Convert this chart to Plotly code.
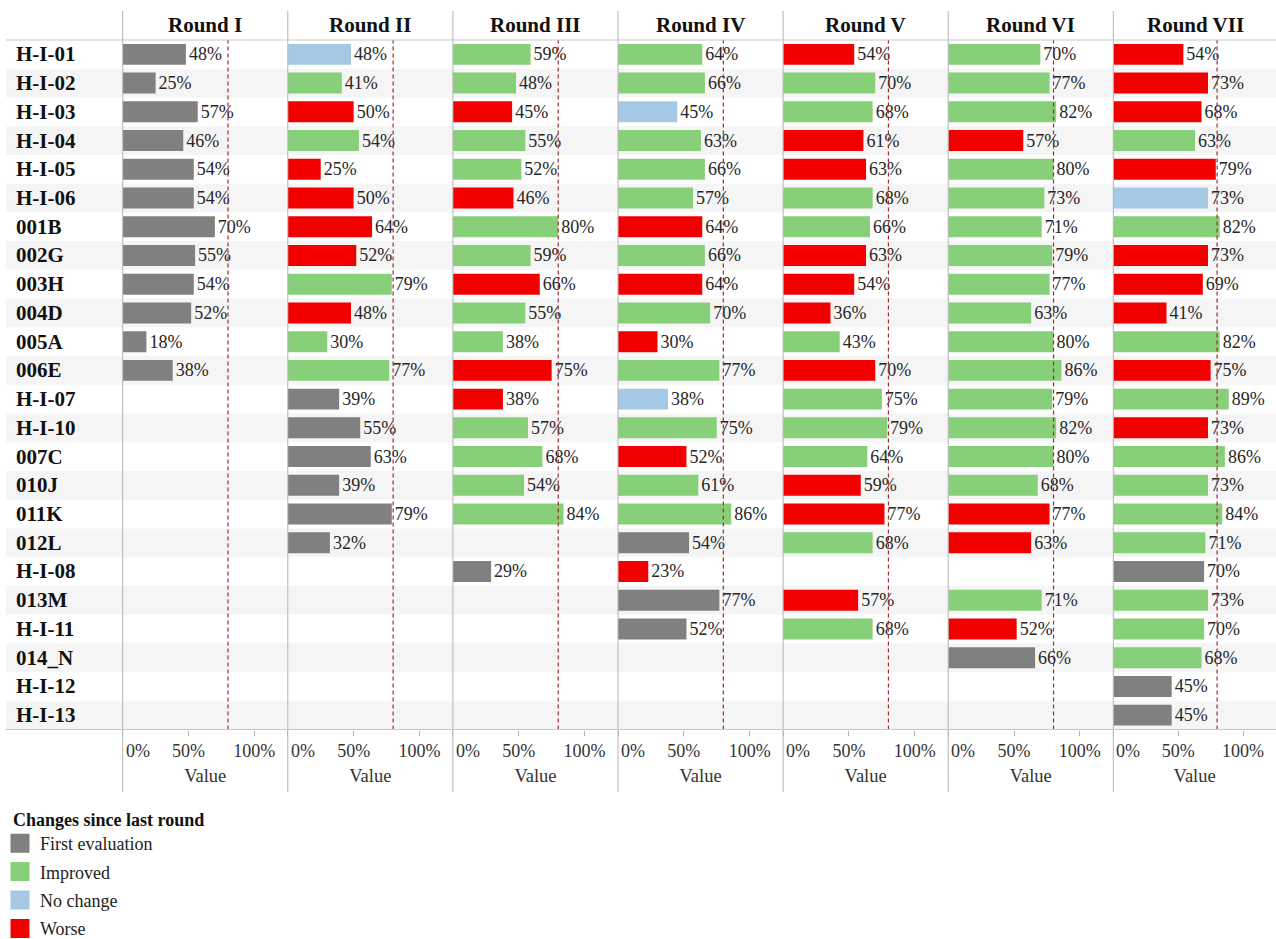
import plotly.graph_objects as go
from plotly.subplots import make_subplots

# ---------------- data ----------------
rows = ["H-I-01", "H-I-02", "H-I-03", "H-I-04", "H-I-05", "H-I-06", "001B", "002G",
        "003H", "004D", "005A", "006E", "H-I-07", "H-I-10", "007C", "010J", "011K",
        "012L", "H-I-08", "013M", "H-I-11", "014_N", "H-I-12", "H-I-13"]

rounds = ["Round I", "Round II", "Round III", "Round IV", "Round V", "Round VI", "Round VII"]

_ = None
r1_values = [48, 25, 57, 46, 54, 54, 70, 55, 54, 52, 18, 38, _, _, _, _, _, _, _, _, _, _, _, _]
r1_status = ["F", "F", "F", "F", "F", "F", "F", "F", "F", "F", "F", "F", _, _, _, _, _, _, _, _, _, _, _, _]

r2_values = [48, 41, 50, 54, 25, 50, 64, 52, 79, 48, 30, 77, 39, 55, 63, 39, 79, 32, _, _, _, _, _, _]
r2_status = ["N", "I", "W", "I", "W", "W", "W", "W", "I", "W", "I", "I", "F", "F", "F", "F", "F", "F", _, _, _, _, _, _]

r3_values = [59, 48, 45, 55, 52, 46, 80, 59, 66, 55, 38, 75, 38, 57, 68, 54, 84, _, 29, _, _, _, _, _]
r3_status = ["I", "I", "W", "I", "I", "W", "I", "I", "W", "I", "I", "W", "W", "I", "I", "I", "I", _, "F", _, _, _, _, _]

r4_values = [64, 66, 45, 63, 66, 57, 64, 66, 64, 70, 30, 77, 38, 75, 52, 61, 86, 54, 23, 77, 52, _, _, _]
r4_status = ["I", "I", "N", "I", "I", "I", "W", "I", "W", "I", "W", "I", "N", "I", "W", "I", "I", "F", "W", "F", "F", _, _, _]

r5_values = [54, 70, 68, 61, 63, 68, 66, 63, 54, 36, 43, 70, 75, 79, 64, 59, 77, 68, _, 57, 68, _, _, _]
r5_status = ["W", "I", "I", "W", "W", "I", "I", "W", "W", "W", "I", "W", "I", "I", "I", "W", "W", "I", _, "W", "I", _, _, _]

r6_values = [70, 77, 82, 57, 80, 73, 71, 79, 77, 63, 80, 86, 79, 82, 80, 68, 77, 63, _, 71, 52, 66, _, _]
r6_status = ["I", "I", "I", "W", "I", "I", "I", "I", "I", "I", "I", "I", "I", "I", "I", "I", "W", "W", _, "I", "W", "F", _, _]

r7_values = [54, 73, 68, 63, 79, 73, 82, 73, 69, 41, 82, 75, 89, 73, 86, 73, 84, 71, 70, 73, 70, 68, 45, 45]
r7_status = ["W", "W", "W", "I", "W", "N", "I", "W", "W", "W", "I", "W", "I", "W", "I", "I", "I", "I", "F", "I", "I", "I", "F", "F"]

round_values = [r1_values, r2_values, r3_values, r4_values, r5_values, r6_values, r7_values]
round_status = [r1_status, r2_status, r3_status, r4_status, r5_status, r6_status, r7_status]

status_codes = ["F", "I", "N", "W"]
status_names = ["First evaluation", "Improved", "No change", "Worse"]
legend_title = "Changes since last round"
tick_values = [0, 50, 100]
tick_labels = ["0%", "50%", "100%"]
target = 80

# ---------------- style ----------------
colors = {"F": "#808080", "I": "#87cf79", "N": "#a5c9e5", "W": "#f20000"}
FONT = "Liberation Serif"
W, H = 1276, 939
panel_left0, panel_w = 122.7, 165.1
plot_top_px, plot_bot_px = 40, 729.5
ydom = [1 - plot_bot_px / H, 1 - plot_top_px / H]
xmax = 125.4

fig = make_subplots(rows=1, cols=7, shared_yaxes=True, horizontal_spacing=0)

for code, name in zip(status_codes, status_names):
    for i in range(7):
        xs = [v for v, s in zip(round_values[i], round_status[i]) if s == code]
        ys = [r for r, s in zip(rows, round_status[i]) if s == code]
        fig.add_trace(go.Bar(
            x=xs, y=ys, orientation="h", name=name, showlegend=False,
            marker=dict(color=colors[code], line=dict(width=0)),
            texttemplate="%{x:.0f}%", textposition="outside", cliponaxis=False,
            constraintext="none",
            textfont=dict(family=FONT, size=18, color="#262626"),
            hoverinfo="skip",
        ), row=1, col=i + 1)

# legend entries (square swatches)
for code, name in zip(status_codes, status_names):
    fig.add_trace(go.Scatter(
        x=[None], y=[None], mode="markers", name=name, legendgroup=code,
        marker=dict(symbol="square", size=16, color=colors[code],
                    line=dict(color=colors[code], width=3)),
        hoverinfo="skip",
    ), row=1, col=1)

shapes = []
annotations = []

# alternating row bands
for k in range(len(rows)):
    if k % 2 == 1:
        shapes.append(dict(type="rect", xref="paper", yref="y", x0=6 / W, x1=1,
                           y0=k - 0.5, y1=k + 0.5, fillcolor="#f5f5f5",
                           line=dict(width=0), layer="below"))

for i in range(7):
    left = panel_left0 + panel_w * i
    right = min(left + panel_w, W)
    ax = "xaxis" if i == 0 else f"xaxis{i + 1}"
    yax = "yaxis" if i == 0 else f"yaxis{i + 1}"
    xr = "x" if i == 0 else f"x{i + 1}"
    fig.layout[ax].update(
        domain=[left / W, right / W], range=[0, xmax],
        tickvals=tick_values, ticktext=[""] + tick_labels[1:],
        ticks="outside", ticklen=5, tickcolor="#b0b0b0",
        showgrid=False, zeroline=False, showline=False,
        tickfont=dict(family=FONT, size=18, color="#333333"),
        title=dict(text="Value", font=dict(family=FONT, size=18.5, color="#333333"), standoff=8),
    )
    fig.layout[yax].update(
        domain=ydom, type="category", categoryorder="array", categoryarray=rows,
        range=[len(rows) - 0.5, -0.5], showticklabels=False, showgrid=False,
        zeroline=False, showline=False, ticks="",
    )
    # first tick label, left-aligned at the axis origin
    annotations.append(dict(text=tick_labels[0], xref=xr, yref="paper", x=tick_values[0],
                            y=1 - 751 / H, xanchor="left", yanchor="middle", xshift=1,
                            showarrow=False, font=dict(family=FONT, size=18, color="#333333")))
    # separator line
    shapes.append(dict(type="line", xref="paper", yref="paper", x0=left / W, x1=left / W,
                       y0=1 - 792 / H, y1=1 - 11 / H, line=dict(color="#b4b4b4", width=1)))
    # target line
    shapes.append(dict(type="line", xref=xr, yref="paper", x0=target, x1=target,
                       y0=ydom[0], y1=ydom[1], line=dict(color="#9b2d30", width=1.2, dash="4px,3px")))
    # header
    annotations.append(dict(text="<b>" + rounds[i] + "</b>", xref="paper", yref="paper",
                            x=(left + panel_w / 2) / W, y=1 - 25 / H, xanchor="center", yanchor="middle",
                            showarrow=False, font=dict(family=FONT, size=21, color="#111111")))

# top & bottom horizontal rules
for ypx in (plot_top_px, plot_bot_px):
    shapes.append(dict(type="line", xref="paper", yref="paper", x0=6 / W, x1=1,
                       y0=1 - ypx / H, y1=1 - ypx / H, line=dict(color="#c8c8c8", width=1)))

# row labels
for r in rows:
    annotations.append(dict(text="<b>" + r + "</b>", xref="paper", yref="y", x=14 / W, y=r,
                            xanchor="left", yanchor="middle", showarrow=False,
                            font=dict(family=FONT, size=21, color="#111111")))

# legend title
annotations.append(dict(text="<b>" + legend_title + "</b>", xref="paper", yref="paper",
                        x=11 / W, y=1 - 820 / H, xanchor="left", yanchor="middle", showarrow=False,
                        font=dict(family=FONT, size=18, color="#111111")))

fig.update_layout(
    width=W, height=H, margin=dict(l=0, r=0, t=0, b=0, autoexpand=False),
    paper_bgcolor="white", plot_bgcolor="rgba(0,0,0,0)",
    barmode="overlay", bargap=0.27,
    shapes=shapes, annotations=annotations,
    font=dict(family=FONT, color="#222222"),
    legend=dict(
        orientation="v", x=0, xanchor="left", y=1 - 825 / H, yanchor="top",
        font=dict(family=FONT, size=18, color="#222222"), bgcolor="rgba(0,0,0,0)",
        tracegroupgap=2, itemwidth=30,
    ),
)

fig.write_html("out.html", config={"displayModeBar": False},
               post_script="document.body.style.margin='0px';")
